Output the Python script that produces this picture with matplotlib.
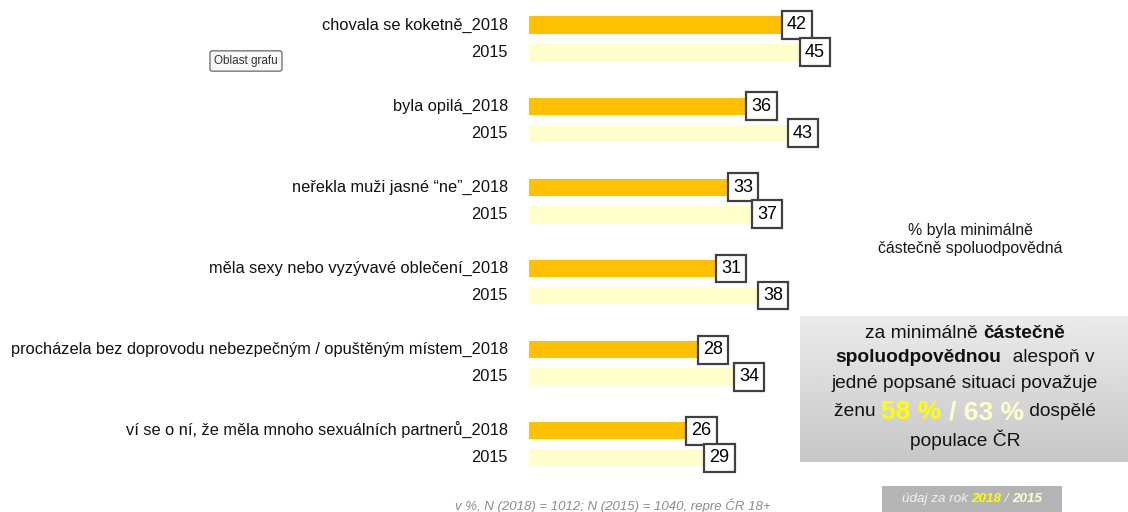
import matplotlib.pyplot as plt
import numpy as np
from matplotlib.patches import Rectangle

plt.rcParams['font.family'] = ['Liberation Sans', 'DejaVu Sans']

categories = ['chovala se koketně',
              'byla opilá',
              'neřekla muži jasné “ne”',
              'měla sexy nebo vyzývavé oblečení',
              'procházela bez doprovodu nebezpečným / opuštěným místem',
              'ví se o ní, že měla mnoho sexuálních partnerů']
vals_2018 = [42, 36, 33, 31, 28, 26]
vals_2015 = [45, 43, 37, 38, 34, 29]

col_2018 = '#FFC000'
col_2015 = '#FFFFCC'

W, H = 1128, 512
fig = plt.figure(figsize=(W / 100, H / 100), dpi=100)

# bar area: x=0 at pixel 529, 6 px per percent
ax = fig.add_axes([529 / W, 0, 300 / W, 1])
ax.set_xlim(0, 50)
ax.set_ylim(18.0, -0.924)
ax.axis('off')

y18 = np.arange(len(categories)) * 3
y15 = y18 + 1
ax.barh(y18, vals_2018, height=0.63, color=col_2018, edgecolor='none')
ax.barh(y15, vals_2015, height=0.63, color=col_2015, edgecolor='none')

box = dict(boxstyle='square,pad=0.3', fc='white', ec='#404040', lw=1.6)
for y, v in zip(y18, vals_2018):
    ax.text(v + 1.0, y, str(v), ha='left', va='center', fontsize=13, bbox=box)
for y, v in zip(y15, vals_2015):
    ax.text(v + 1.0, y, str(v), ha='left', va='center', fontsize=13, bbox=box)

for y, c in zip(y18, categories):
    ax.text(-3.5, y, c + '_2018', ha='right', va='center', fontsize=11.8, color='#111111')
for y in y15:
    ax.text(-3.5, y, '2015', ha='right', va='center', fontsize=11.8, color='#111111')

# side note
fig.text(970 / W, 1 - 240 / H, '% byla minimálně\nčástečně spoluodpovědná', ha='center', va='center',
         fontsize=11.4, color='#1a1a1a', linespacing=1.25)

# gray gradient panel
grad = np.linspace(0.92, 0.78, 100).reshape(-1, 1)
gax = fig.add_axes([800 / W, 1 - 462 / H, 328 / W, 146 / H])
gax.imshow(grad, cmap='gray', vmin=0, vmax=1, aspect='auto', extent=[0, 1, 0, 1])
gax.axis('off')

fig.canvas.draw()
renderer = fig.canvas.get_renderer()


def line_of_parts(xc, yc, parts):
    # parts: (text, kwargs); draw centred at pixel xc, yc
    texts = []
    for s, kw in parts:
        t = fig.text(0, 1 - yc / H, s, ha='left', va='center', **kw)
        texts.append(t)
    widths = [t.get_window_extent(renderer).width for t in texts]
    x = xc - sum(widths) / 2
    for t, w in zip(texts, widths):
        t.set_x(x / W)
        x += w


k = dict(fontsize=13.8, color='#111111')
kb = dict(fontsize=13.8, color='#111111', fontweight='bold')
line_of_parts(965, 333, [('za minimálně ', k), ('částečně', kb)])
line_of_parts(965, 358, [('spoluodpovědnou', kb), ('  alespoň v', k)])
line_of_parts(965, 384, [('jedné popsané situaci považuje', k)])
line_of_parts(965, 412, [('ženu ', k),
                         ('58 % ', dict(fontsize=19, fontweight='bold', color='#FFFF00')),
                         ('/ 63 %', dict(fontsize=19, fontweight='bold', color='#FFFFCC')),
                         (' dospělé', k)])
line_of_parts(965, 440, [('populace ČR', k)])

# bottom tag
fig.patches.append(Rectangle((882 / W, 0), 180 / W, 26 / H, transform=fig.transFigure,
                             fc='#B4B4B4', ec='none'))
ki = dict(fontsize=9.7, style='italic', color='#F2F2F2')
line_of_parts(972, 499, [('údaj za rok ', ki),
                         ('2018', dict(fontsize=9.7, style='italic', fontweight='bold', color='#FFFF00')),
                         (' / ', ki),
                         ('2015', dict(fontsize=9.7, style='italic', fontweight='bold', color='#FFFFCC'))])

# footnote
fig.text(613 / W, 1 - 506 / H, 'v %, N (2018) = 1012; N (2015) = 1040, repre ČR 18+', ha='center', va='center',
         fontsize=9.5, style='italic', color='#8C8C8C')

# tooltip
fig.text(246 / W, 1 - 61 / H, 'Oblast grafu', ha='center', va='center', fontsize=8.5, color='#333333',
         bbox=dict(boxstyle='round,pad=0.35,rounding_size=0.2', fc='#F8F8F8', ec='#555555', lw=0.8))

fig.savefig('out.png', dpi=100)
